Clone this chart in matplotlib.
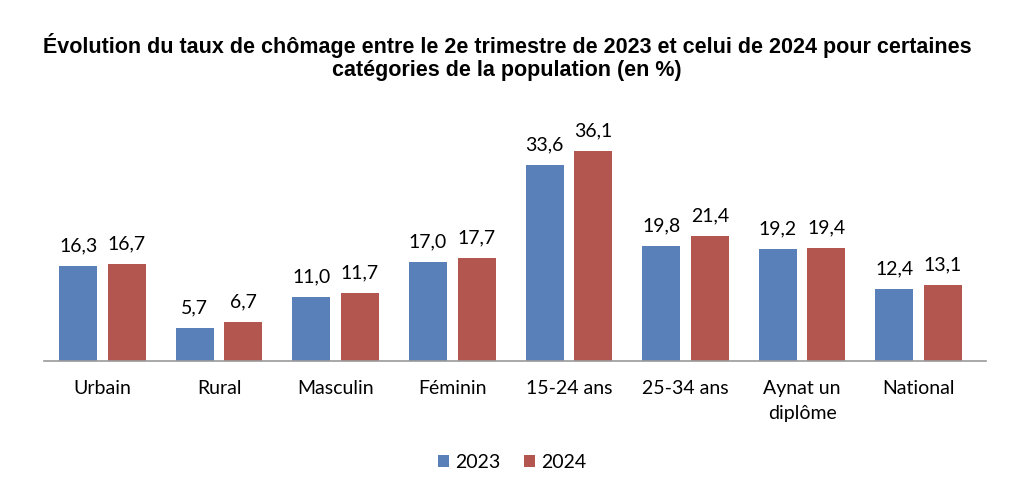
import numpy as np
import matplotlib.pyplot as plt

categories = ["Urbain", "Rural", "Masculin", "Féminin", "15-24 ans",
              "25-34 ans", "Aynat un\ndiplôme", "National"]
values_2023 = [16.3, 5.7, 11.0, 17.0, 33.6, 19.8, 19.2, 12.4]
values_2024 = [16.7, 6.7, 11.7, 17.7, 36.1, 21.4, 19.4, 13.1]
series_names = ["2023", "2024"]

BLUE = "#5A80BA"
RED = "#B3564F"
LABEL_FONT = ["Lato", "DejaVu Sans"]


def fmt(v):
    return f"{v:.1f}".replace(".", ",")


fig = plt.figure(figsize=(10.24, 4.97), dpi=100)
ax = fig.add_axes([0.0432, 0.2736, 0.9194, 0.469])

x = np.arange(len(categories))
w = 0.326
off = 0.208
b1 = ax.bar(x - off, values_2023, w, color=BLUE, label=series_names[0])
b2 = ax.bar(x + off, values_2024, w, color=RED, label=series_names[1])

for bars, vals in ((b1, values_2023), (b2, values_2024)):
    for b, v in zip(bars, vals):
        ax.text(b.get_x() + b.get_width() / 2, v + 2.0, fmt(v),
                ha="center", va="bottom", fontsize=14, family=LABEL_FONT)

ax.set_xlim(-0.5, len(categories) - 0.425)
ax.set_ylim(0, 40)
ax.set_xticks(x)
ax.set_xticklabels(categories, fontsize=14, family=LABEL_FONT, linespacing=1.55)
ax.tick_params(axis="x", length=0, pad=14)
ax.set_yticks([])
for s in ("top", "right", "left"):
    ax.spines[s].set_visible(False)
ax.spines["bottom"].set_color("#9a9a9a")
ax.spines["bottom"].set_linewidth(1.2)

fig.text(0.495, 0.885, "Évolution du taux de chômage entre le 2e trimestre de 2023 et celui de 2024 pour certaines\ncatégories de la population (en %)",
         ha="center", va="center", fontsize=15.5, fontweight="bold",
         family=["Liberation Sans", "DejaVu Sans"], linespacing=1.15)

fig.legend(handles=[b1, b2], labels=series_names, loc="center",
           bbox_to_anchor=(0.5, 0.07), ncol=2, frameon=False,
           prop={"family": LABEL_FONT, "size": 14},
           handlelength=0.6, handleheight=0.6, handletextpad=0.3, columnspacing=1.2)

fig.savefig("out.png", dpi=100)
